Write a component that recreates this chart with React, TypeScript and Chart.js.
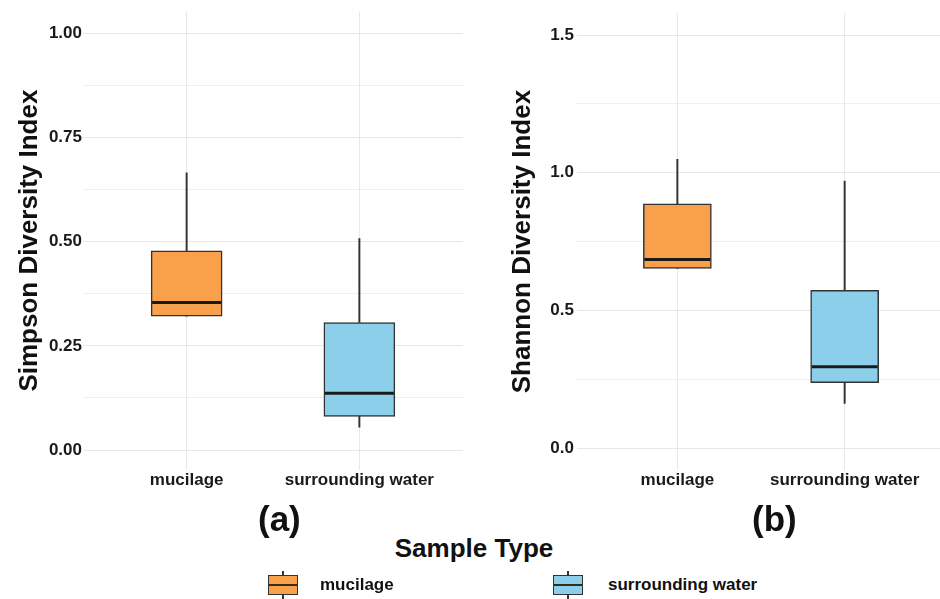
import React, { useEffect, useRef } from 'react';
import { Chart, registerables } from 'chart.js';

Chart.register(...registerables);

// ---------- data ----------
const categories = ['mucilage', 'surrounding water'];
const fillColors = ['#F8A04A', '#8BCFEA'];

const simpsonMin = [0.321, 0.055];
const simpsonQ1 = [0.321, 0.081];
const simpsonMedian = [0.354, 0.136];
const simpsonQ3 = [0.478, 0.306];
const simpsonMax = [0.665, 0.507];

const shannonMin = [0.653, 0.162];
const shannonQ1 = [0.653, 0.238];
const shannonMedian = [0.685, 0.296];
const shannonQ3 = [0.887, 0.573];
const shannonMax = [1.049, 0.97];

const simpsonTickLabels = ['0.00', '0.25', '0.50', '0.75', '1.00'];
const shannonTickLabels = ['0.0', '0.5', '1.0', '1.5'];

const FONT = "'Liberation Sans', Arial, Helvetica, sans-serif";
const BORDER = '#333333';
const GRID = '#E8E8E8';

type PanelProps = {
  left: number;
  width: number;
  height: number;
  yTitle: string;
  yMin: number;
  yMax: number;
  xMax: number;
  tickLabels: string[];
  axisWidth: number;
  titlePad: number;
  tickPad: number;
  rightPad: number;
  boxWidth: number;
  mins: number[];
  q1s: number[];
  medians: number[];
  q3s: number[];
  maxs: number[];
};

function Panel(p: PanelProps) {
  const ref = useRef<HTMLCanvasElement | null>(null);

  useEffect(() => {
    if (!ref.current) return;
    const majors = p.tickLabels.map((l) => parseFloat(l));
    const allTicks: number[] = [];
    majors.forEach((v, i) => {
      allTicks.push(v);
      if (i < majors.length - 1) allTicks.push((v + majors[i + 1]) / 2);
    });
    const isMajor = (v: number) => majors.some((m) => Math.abs(m - v) < 1e-9);

    const xs = categories.map((_, i) => i + 1);

    const chart = new Chart(ref.current, {
      type: 'bar',
      data: {
        datasets: [
          {
            type: 'scatter',
            data: xs.map((x, i) => ({ x, y: p.medians[i] })),
            pointStyle: 'line',
            pointRadius: p.boxWidth / 2 - 1,
            pointHoverRadius: p.boxWidth / 2 - 1,
            pointBorderColor: '#1a1a1a',
            pointBorderWidth: 3,
            showLine: false,
            clip: false,
            order: 0,
          } as any,
          {
            data: xs.map((x, i) => ({ x, y: [p.q1s[i], p.q3s[i]] })),
            backgroundColor: fillColors,
            borderColor: BORDER,
            borderWidth: 1.5,
            borderSkipped: false,
            barThickness: p.boxWidth,
            grouped: false,
            order: 1,
          } as any,
          {
            data: xs.map((x, i) => ({ x, y: [p.q3s[i], p.maxs[i]] })),
            backgroundColor: BORDER,
            borderWidth: 0,
            barThickness: 1.3,
            grouped: false,
            order: 2,
          } as any,
          {
            data: xs.map((x, i) => ({ x, y: [p.mins[i], p.q1s[i]] })),
            backgroundColor: BORDER,
            borderWidth: 0,
            barThickness: 1.3,
            grouped: false,
            order: 2,
          } as any,
        ],
      },
      options: {
        animation: false,
        responsive: false,
        events: [],
        layout: { autoPadding: false, padding: { top: 10, right: p.rightPad, left: 0, bottom: 0 } },
        plugins: { legend: { display: false }, tooltip: { enabled: false } },
        scales: {
          x: {
            type: 'linear',
            min: 0.4,
            max: p.xMax,
            offset: false,
            border: { display: false },
            grid: { color: GRID, lineWidth: 1, drawTicks: false, offset: false },
            afterBuildTicks: (scale: any) => {
              scale.ticks = xs.map((v) => ({ value: v }));
            },
            afterFit: (scale: any) => {
              scale.height = 30;
            },
            ticks: {
              autoSkip: false,
              maxRotation: 0,
              padding: 0,
              color: '#1a1a1a',
              font: { family: FONT, size: 17, weight: 'bold' },
              callback: (v: any) => categories[Number(v) - 1] ?? '',
            },
          },
          y: {
            type: 'linear',
            min: p.yMin,
            max: p.yMax,
            border: { display: false },
            grid: {
              color: GRID,
              drawTicks: false,
              lineWidth: (ctx: any) => (ctx.tick && isMajor(ctx.tick.value) ? 1 : 0.7),
            },
            afterBuildTicks: (scale: any) => {
              scale.ticks = allTicks.map((v) => ({ value: v }));
            },
            afterFit: (scale: any) => {
              scale.width = p.axisWidth;
            },
            ticks: {
              autoSkip: false,
              padding: p.tickPad,
              color: '#1a1a1a',
              font: { family: FONT, size: 17, weight: 'bold' },
              callback: (v: any) => {
                const idx = majors.findIndex((m) => Math.abs(m - Number(v)) < 1e-9);
                return idx >= 0 ? p.tickLabels[idx] : '';
              },
            },
            title: {
              display: true,
              text: p.yTitle,
              color: '#111111',
              padding: { top: p.titlePad, bottom: 0 },
              font: { family: FONT, size: 26, weight: 'bold' },
            },
          },
        },
      } as any,
    });
    return () => chart.destroy();
  }, []);

  return (
    <canvas
      ref={ref}
      width={p.width}
      height={p.height}
      style={{ position: 'absolute', left: p.left, top: 0, width: p.width, height: p.height, display: 'block' }}
    />
  );
}

function LegendIcon({ color }: { color: string }) {
  return (
    <div style={{ position: 'relative', width: 30, height: 28 }}>
      <div style={{ position: 'absolute', left: 14, top: 0, width: 1.5, height: 5, background: BORDER }} />
      <div style={{ position: 'absolute', left: 14, top: 23, width: 1.5, height: 5, background: BORDER }} />
      <div
        style={{
          position: 'absolute',
          left: 0,
          top: 4,
          width: 30,
          height: 20,
          boxSizing: 'border-box',
          border: `1.5px solid ${BORDER}`,
          background: color,
        }}
      />
      <div style={{ position: 'absolute', left: 1, top: 13, width: 28, height: 2, background: '#3a2a1a' }} />
    </div>
  );
}

export default function App() {
  const legendX = [268, 553];
  const legendGap = [22, 25];
  return (
    <div style={{ position: 'absolute', left: 0, top: 0, width: 940, height: 599, background: '#ffffff', overflow: 'hidden', fontFamily: FONT }}>
      <Panel
        left={0}
        width={470}
        height={500}
        yTitle="Simpson Diversity Index"
        yMin={-0.0478}
        yMax={1.0526}
        xMax={2.6}
        tickLabels={simpsonTickLabels}
        axisWidth={83}
        titlePad={14.4}
        tickPad={1}
        rightPad={7}
        boxWidth={71}
        mins={simpsonMin}
        q1s={simpsonQ1}
        medians={simpsonMedian}
        q3s={simpsonQ3}
        maxs={simpsonMax}
      />
      <Panel
        left={470}
        width={470}
        height={500}
        yTitle="Shannon Diversity Index"
        yMin={-0.0793}
        yMax={1.5793}
        xMax={2.57}
        tickLabels={shannonTickLabels}
        axisWidth={107}
        titlePad={37.4}
        tickPad={3}
        rightPad={0}
        boxWidth={68}
        mins={shannonMin}
        q1s={shannonQ1}
        medians={shannonMedian}
        q3s={shannonQ3}
        maxs={shannonMax}
      />
      <div style={{ position: 'absolute', left: 258, top: 501, fontSize: 35, lineHeight: 1, fontWeight: 'bold', color: '#111' }}>(a)</div>
      <div style={{ position: 'absolute', left: 752, top: 501, fontSize: 35, lineHeight: 1, fontWeight: 'bold', color: '#111' }}>(b)</div>
      <div
        style={{
          position: 'absolute',
          left: 474,
          top: 535,
          transform: 'translateX(-50%)',
          whiteSpace: 'nowrap',
          fontSize: 26,
          lineHeight: 1,
          fontWeight: 'bold',
          color: '#111',
        }}
      >
        Sample Type
      </div>
      {categories.map((c, i) => (
        <div
          key={c}
          style={{ position: 'absolute', left: legendX[i], top: 571, display: 'flex', alignItems: 'center', whiteSpace: 'nowrap' }}
        >
          <LegendIcon color={fillColors[i]} />
          <span style={{ marginLeft: legendGap[i], fontSize: 17, fontWeight: 'bold', color: '#111' }}>{c}</span>
        </div>
      ))}
    </div>
  );
}
